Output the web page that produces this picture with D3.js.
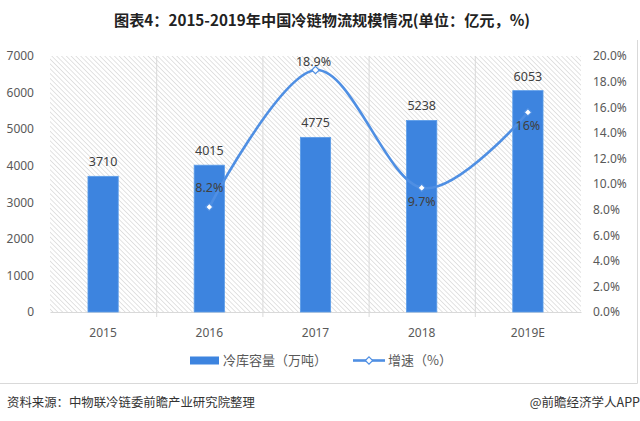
<!DOCTYPE html>
<html>
<head>
<meta charset="utf-8">
<script src="https://cdn.jsdelivr.net/npm/d3@7.9.0/dist/d3.min.js"></script>
<style>
  html, body { margin: 0; padding: 0; background: #fff; }
  svg { display: block; font-family: "Noto Sans", "Noto Sans CJK SC", sans-serif; }
</style>
</head>
<body>
<div id="chart"></div>
<script>
// chart data
const years = ['2015', '2016', '2017', '2018', '2019E'];
const capacity = [3710, 4015, 4775, 5238, 6053];          // 冷库容量（万吨）
const growth = [null, 8.2, 18.9, 9.7, 15.6];              // 增速（%）
const growthLabels = [null, '8.2%', '18.9%', '9.7%', '16%'];
const leftTicks = [0, 1000, 2000, 3000, 4000, 5000, 6000, 7000];
const rightTicks = [0, 2, 4, 6, 8, 10, 12, 14, 16, 18, 20];

// label placement (layout only)
const rateLabelDy = { '2016': -15, '2017': -4, '2018': 18, '2019E': 18 };

const W = 640, H = 421;
const plot = { left: 50, right: 581, top: 56, bottom: 312 };
const barColor = '#3d84df';
const lineColor = '#4f8fe3';
const textColor = '#595959';

const svg = d3.select('#chart').append('svg')
  .attr('width', W)
  .attr('height', H);

// hatched plot background
const defs = svg.append('defs');
const pat = defs.append('pattern')
  .attr('id', 'hatch')
  .attr('patternUnits', 'userSpaceOnUse')
  .attr('width', 3.4)
  .attr('height', 3.4)
  .attr('patternTransform', 'rotate(-45)');
pat.append('rect').attr('width', 3.4).attr('height', 3.4).attr('fill', '#fff');
pat.append('line')
  .attr('x1', 0).attr('y1', 0).attr('x2', 0).attr('y2', 3.4)
  .attr('stroke', '#cdcdcd').attr('stroke-width', 1.1);

svg.append('rect')
  .attr('x', plot.left)
  .attr('y', plot.top)
  .attr('width', plot.right - plot.left)
  .attr('height', plot.bottom - plot.top)
  .attr('fill', 'url(#hatch)');

// title
svg.append('text')
  .attr('x', 322)
  .attr('y', 26)
  .attr('text-anchor', 'middle')
  .attr('font-family', '"Noto Sans CJK SC", sans-serif')
  .attr('font-weight', 'bold')
  .attr('font-size', 15.2)
  .attr('fill', '#222')
  .text('图表4：2015-2019年中国冷链物流规模情况(单位：亿元，%)');

// scales
const x = d3.scaleBand()
  .domain(years)
  .range([plot.left, plot.right])
  .padding(0);

const yLeft = d3.scaleLinear()
  .domain([0, 7000])
  .range([plot.bottom, plot.top]);

const yRight = d3.scaleLinear()
  .domain([0, 20])
  .range([plot.bottom, plot.top]);

const barW = x.bandwidth() * 0.285;

// vertical separators between categories
svg.append('g')
  .selectAll('line')
  .data(years.slice(1))
  .join('line')
  .attr('x1', d => x(d) + 0.5)
  .attr('x2', d => x(d) + 0.5)
  .attr('y1', plot.top)
  .attr('y2', plot.bottom + 5)
  .attr('stroke', '#d9d9d9')
  .attr('stroke-width', 1);

// left axis
svg.append('g')
  .attr('transform', `translate(${plot.left - 13},0)`)
  .call(d3.axisLeft(yLeft).tickValues(leftTicks).tickSize(0).tickFormat(d3.format('d')))
  .call(g => g.select('.domain').remove())
  .call(g => g.selectAll('text')
    .attr('font-size', 12)
    .attr('fill', textColor)
    .attr('font-family', '"Noto Sans", sans-serif'));

// right axis
svg.append('g')
  .attr('transform', `translate(${plot.right + 12},0)`)
  .call(d3.axisRight(yRight).tickValues(rightTicks).tickSize(0).tickFormat(d => d.toFixed(1) + '%'))
  .call(g => g.select('.domain').remove())
  .call(g => g.selectAll('text')
    .attr('x', 0)
    .attr('font-size', 12)
    .attr('fill', textColor)
    .attr('font-family', '"Noto Sans", sans-serif'));

// bottom axis
svg.append('g')
  .attr('transform', `translate(0,${plot.bottom})`)
  .call(d3.axisBottom(x).tickSize(0).tickPadding(16))
  .call(g => g.select('.domain').attr('stroke', '#d9d9d9'))
  .call(g => g.selectAll('text')
    .attr('font-size', 12)
    .attr('fill', textColor)
    .attr('font-family', '"Noto Sans", sans-serif'));

// bars
svg.append('g')
  .selectAll('rect')
  .data(years)
  .join('rect')
  .attr('x', d => x(d) + (x.bandwidth() - barW) / 2)
  .attr('y', (d, i) => yLeft(capacity[i]))
  .attr('width', barW)
  .attr('height', (d, i) => yLeft(0) - yLeft(capacity[i]))
  .attr('fill', barColor)
  .attr('stroke', '#5c9de9')
  .attr('stroke-width', 0.8);

// bar labels
svg.append('g')
  .selectAll('text')
  .data(years)
  .join('text')
  .attr('x', d => x(d) + x.bandwidth() / 2)
  .attr('y', (d, i) => yLeft(capacity[i]) - 10)
  .attr('text-anchor', 'middle')
  .attr('font-size', 12.5)
  .attr('fill', '#404040')
  .text((d, i) => capacity[i]);

// growth line
const pts = years.map((d, i) => ({ year: d, v: growth[i], label: growthLabels[i] }))
  .filter(d => d.v != null);

const line = d3.line()
  .x(d => x(d.year) + x.bandwidth() / 2)
  .y(d => yRight(d.v))
  .curve(d3.curveCardinal.tension(0));

svg.append('path')
  .datum(pts)
  .attr('d', line)
  .attr('fill', 'none')
  .attr('stroke', lineColor)
  .attr('stroke-width', 2.6);

const diamond = d3.symbol().type(d3.symbolDiamond2).size(34);

svg.append('g')
  .selectAll('path')
  .data(pts)
  .join('path')
  .attr('transform', d => `translate(${x(d.year) + x.bandwidth() / 2},${yRight(d.v)})`)
  .attr('d', diamond)
  .attr('fill', '#fff')
  .attr('stroke', lineColor)
  .attr('stroke-width', 1.2);

svg.append('g')
  .selectAll('text')
  .data(pts)
  .join('text')
  .attr('x', d => x(d.year) + x.bandwidth() / 2 - (d.year === '2017' ? 2 : 0))
  .attr('y', d => yRight(d.v) + rateLabelDy[d.year])
  .attr('text-anchor', 'middle')
  .attr('font-size', 12.5)
  .attr('fill', '#404040')
  .text(d => d.label);

// legend
const lg = svg.append('g').attr('font-family', '"Noto Sans CJK SC", sans-serif');
lg.append('rect')
  .attr('x', 190).attr('y', 356.5)
  .attr('width', 29).attr('height', 8)
  .attr('fill', barColor);
lg.append('text')
  .attr('x', 223).attr('y', 365)
  .attr('font-size', 13)
  .attr('fill', textColor)
  .text('冷库容量（万吨）');
lg.append('line')
  .attr('x1', 353).attr('x2', 385)
  .attr('y1', 360.5).attr('y2', 360.5)
  .attr('stroke', lineColor)
  .attr('stroke-width', 2.6);
lg.append('path')
  .attr('transform', 'translate(369,360.5)')
  .attr('d', diamond)
  .attr('fill', '#fff')
  .attr('stroke', lineColor)
  .attr('stroke-width', 1.2);
lg.append('text')
  .attr('x', 388).attr('y', 365)
  .attr('font-size', 13)
  .attr('fill', textColor)
  .text('增速（%）');

// frame lines
svg.append('path')
  .attr('d', 'M0,383.5H637.5V40')
  .attr('fill', 'none')
  .attr('stroke', '#d9d9d9')
  .attr('stroke-width', 1);

// footer
svg.append('text')
  .attr('x', 7).attr('y', 407)
  .attr('font-family', '"Noto Sans CJK SC", sans-serif')
  .attr('font-size', 12.4)
  .attr('fill', '#333')
  .text('资料来源：中物联冷链委前瞻产业研究院整理');

svg.append('text')
  .attr('x', 640).attr('y', 407)
  .attr('text-anchor', 'end')
  .attr('font-family', '"Noto Sans CJK SC", sans-serif')
  .attr('font-size', 12.5)
  .attr('fill', '#333')
  .text('@前瞻经济学人APP');
</script>
</body>
</html>
